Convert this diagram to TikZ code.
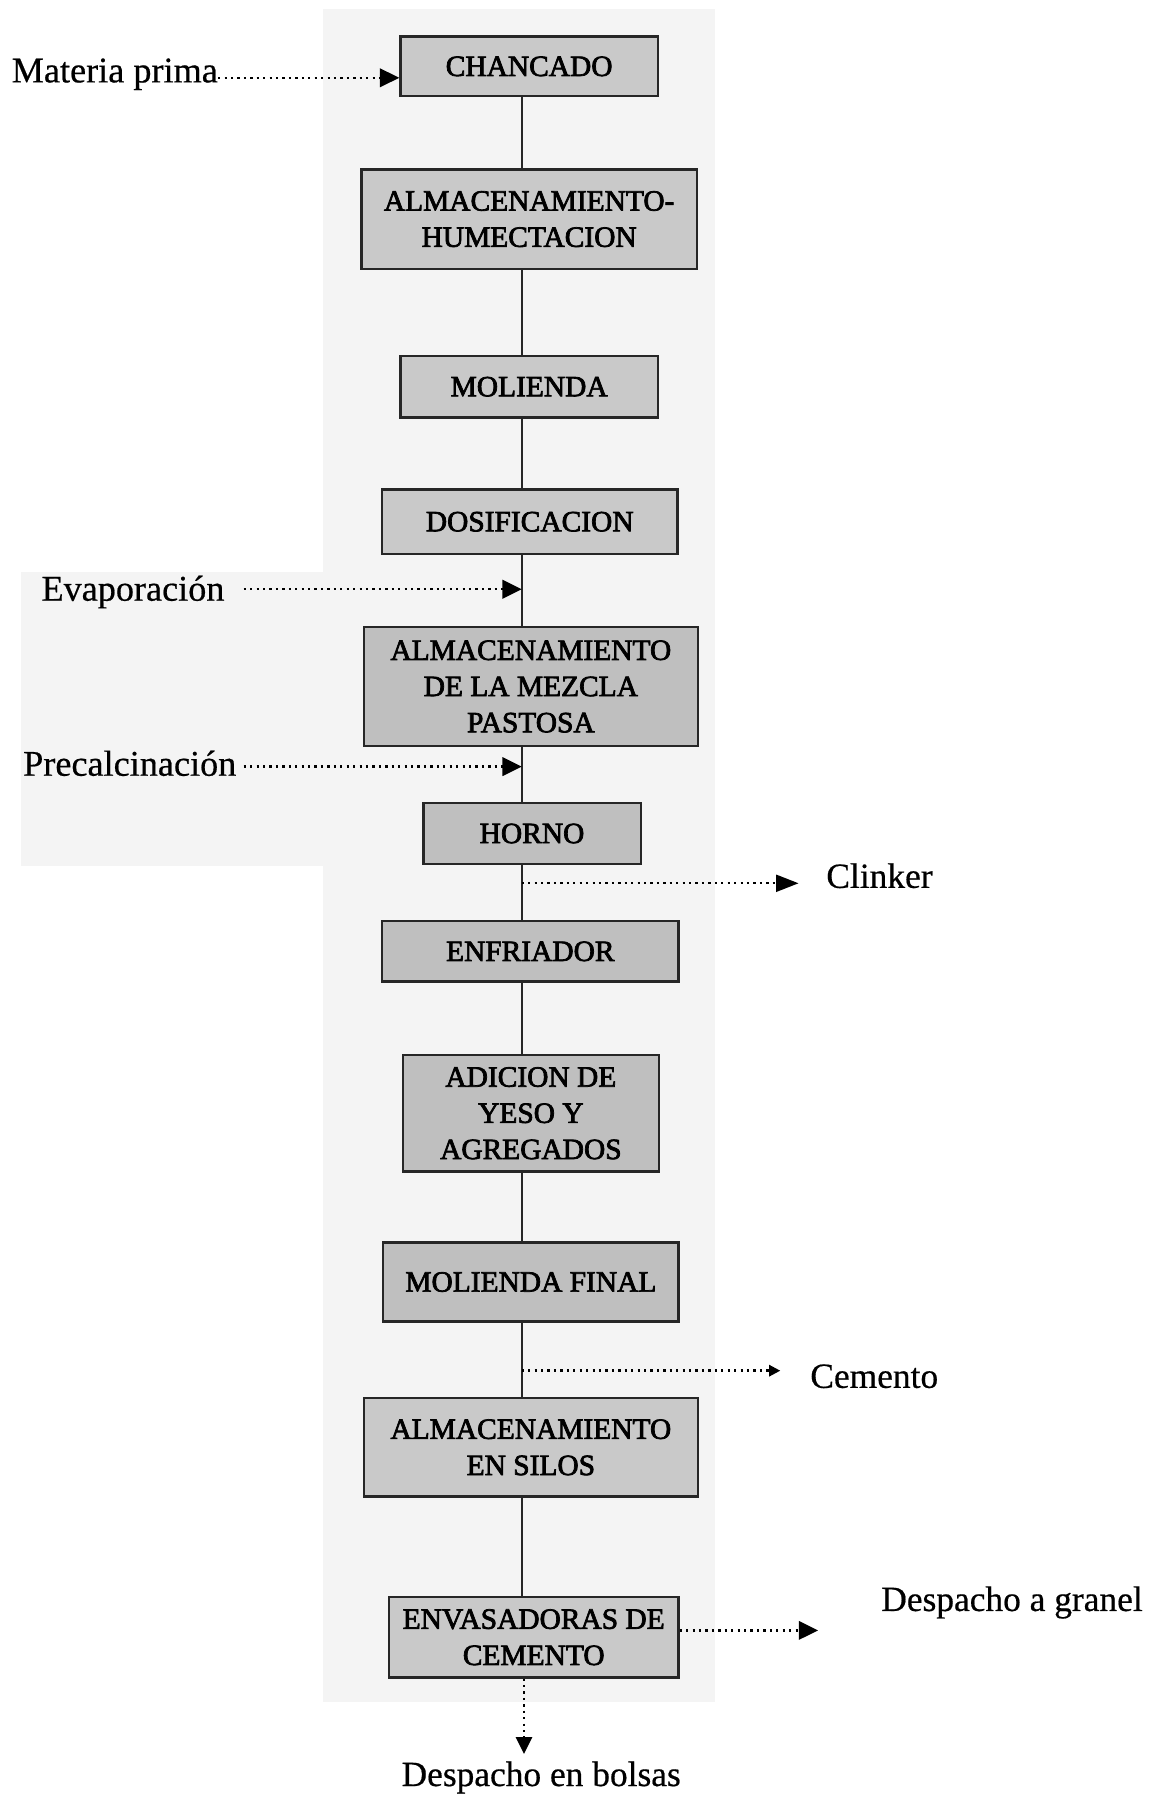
\documentclass[tikz,border=0pt]{standalone}
\usepackage{fontspec}
\setmainfont{Liberation Serif}
\newfontfamily\boxfont[FakeBold=2.5]{Liberation Serif}
\newfontfamily\lblfont[FakeBold=0.5]{Liberation Serif}
\usetikzlibrary{arrows.meta}
\newlength\uu
\setlength\uu{0.025cm}
\definecolor{panel}{gray}{0.955}
\definecolor{boxa}{gray}{0.79}
\definecolor{boxb}{gray}{0.75}
\begin{document}
\begin{tikzpicture}[x=0.025cm,y=-0.025cm,
  procbox/.style={draw=black!85, line width=1.5pt, fill=boxa, inner sep=0pt,
    align=center, font=\boxfont\fontsize{18.3}{22.5}\selectfont},
  darkbox/.style={procbox, fill=boxb},
  lbl/.style={font=\lblfont\fontsize{22.5}{26}\selectfont, inner sep=0pt, anchor=base west},
  rlbl/.style={lbl, font=\lblfont\fontsize{22}{26}\selectfont},
  flow/.style={line width=1.1pt, black!85},
  dots/.style={line width=1.5pt, dash pattern=on 1.4pt off 2.6pt},
  bigtip/.style={-{Triangle[length=12pt,width=11.5pt]}},
  smalltip/.style={-{Triangle[length=7pt,width=7pt]}}]
\useasboundingbox (0,0) rectangle (1009,1568);
\fill[white] (0,0) rectangle (1009,1568);
% background panels
\fill[panel] (282,8) rectangle (625,1488);
\fill[panel] (18,500) rectangle (282,757);
\coordinate (spine) at (456,0);
% boxes
\node[procbox, minimum width=225\uu, minimum height=52\uu] (chan) at (462.5,58) {CHANCADO};
\node[procbox, minimum width=293\uu, minimum height=87\uu] (hum) at (462.5,191.5) {ALMACENAMIENTO-\\HUMECTACION};
\node[procbox, minimum width=225\uu, minimum height=54\uu] (mol) at (462.5,338) {MOLIENDA};
\node[procbox, minimum width=258\uu, minimum height=56\uu] (dos) at (463,456) {DOSIFICACION};
\node[darkbox, minimum width=292\uu, minimum height=104\uu] (mez) at (464,600) {ALMACENAMIENTO\\DE LA MEZCLA\\PASTOSA};
\node[darkbox, minimum width=190\uu, minimum height=53\uu] (hor) at (465,728.5) {HORNO};
\node[darkbox, minimum width=259\uu, minimum height=53\uu] (enf) at (463.5,831.5) {ENFRIADOR};
\node[darkbox, minimum width=224\uu, minimum height=102\uu] (adi) at (464,973) {ADICION DE\\YESO Y\\AGREGADOS};
\node[darkbox, minimum width=258\uu, minimum height=69\uu] (molf) at (464,1120.5) {MOLIENDA FINAL};
\node[procbox, minimum width=292\uu, minimum height=86\uu] (sil) at (464,1265) {ALMACENAMIENTO\\EN SILOS};
\node[procbox, minimum width=253\uu, minimum height=70\uu] (env) at (466.5,1431) {ENVASADORAS DE\\CEMENTO};
% solid flow
\foreach \a/\b in {chan/hum,hum/mol,mol/dos,dos/mez,mez/hor,hor/enf,enf/adi,adi/molf,molf/sil,sil/env}
  \draw[flow] (\a.south -| spine) -- (\b.north -| spine);
% labels
\node[lbl] (mp) at (10,72) {Materia prima};
\node[lbl] (eva) at (36,525) {Evaporación};
\node[lbl] (pre) at (20,678) {Precalcinación};
\node[rlbl] (cli) at (722,776) {Clinker};
\node[rlbl] (cem) at (708,1213) {Cemento};
\node[rlbl] (gra) at (770,1408) {Despacho a granel};
\node[rlbl, anchor=base] (bol) at (473,1561) {Despacho en bolsas};
% helper coordinates
\coordinate (mpy) at (0,68);
\coordinate (evas) at (213,515);
\coordinate (evap) at (456,515);
\coordinate (pres) at (213,670);
\coordinate (prep) at (456,670);
\coordinate (clip) at (456,772);
\coordinate (cemp) at (456,1198);
\coordinate (cliend) at (698,772);
\coordinate (cemend) at (682,1198);
\coordinate (gray) at (0,1425);
\coordinate (graend) at (715,1425);
\coordinate (bolx) at (458,0);
\coordinate (bolend) at (458,1533);
% dotted arrows
\draw[dots, bigtip] (mp.east |- mpy) -- (chan.west |- mpy);
\draw[dots, bigtip] (evas) -- (evap);
\draw[dots, bigtip] (pres) -- (prep);
\draw[dots, -{Triangle[length=14pt,width=10.5pt]}] (clip) -- (cliend);
\draw[dots, smalltip] (cemp) -- (cemend);
\draw[dots, bigtip] (env.east |- gray) -- (graend);
\draw[dots, -{Triangle[length=10.5pt,width=10pt]}] (env.south -| bolx) -- (bolend);
\end{tikzpicture}
\end{document}
